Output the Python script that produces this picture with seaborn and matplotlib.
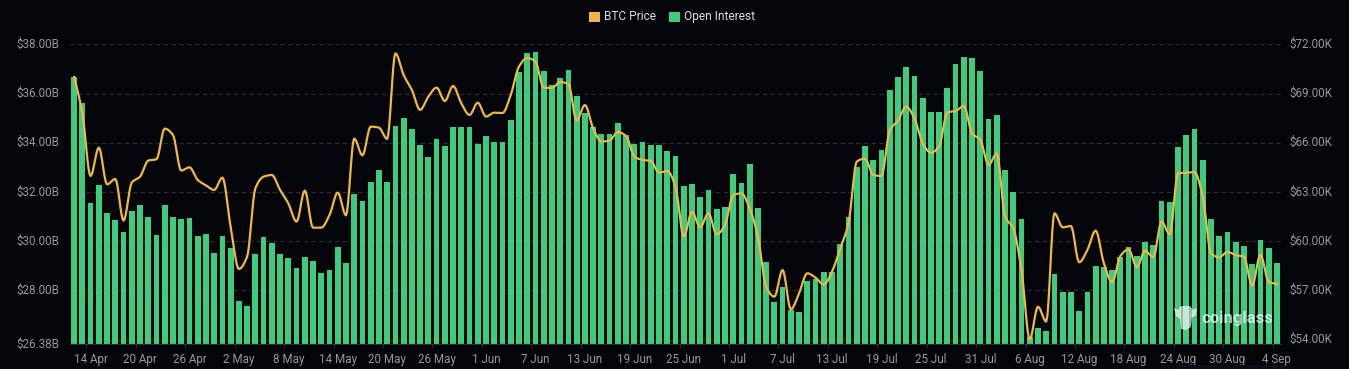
"""
Bitcoin open interest (bars) against BTC price (line), Coinglass dark style
"""

import numpy as np
import pandas as pd
import matplotlib
matplotlib.use('Agg')
import matplotlib.pyplot as plt
from matplotlib.patches import Polygon, Rectangle
from matplotlib.ticker import FixedLocator, NullLocator
import seaborn as sns

# Every 6th category carries a label, the rest stay blank
tick_labels = ['14 Apr', '20 Apr', '26 Apr', '2 May', '8 May', '14 May', '20 May', '26 May',
               '1 Jun', '7 Jun', '13 Jun', '19 Jun', '25 Jun', '1 Jul', '7 Jul', '13 Jul',
               '19 Jul', '25 Jul', '31 Jul', '6 Aug', '12 Aug', '18 Aug', '24 Aug', '30 Aug', '4 Sep']

# Open interest, billions of dollars
open_interest = [
    36.67, 35.62, 31.55, 32.30, 31.16, 30.86, 30.37, 31.24, 31.46, 30.97,
    30.24, 31.47, 30.98, 30.89, 30.95, 30.22, 30.29, 29.52, 30.20, 29.72,
    27.68, 27.53, 29.49, 30.15, 29.92, 29.48, 29.30, 28.91, 29.36, 29.21,
    28.70, 28.81, 29.76, 29.11, 31.92, 31.63, 32.39, 32.91, 32.39, 34.69,
    35.01, 34.56, 33.89, 33.41, 34.14, 33.88, 34.65, 34.64, 34.63, 33.95,
    34.27, 34.02, 34.02, 34.91, 36.88, 37.65, 37.69, 36.92, 36.35, 36.63,
    36.96, 35.89, 35.20, 34.63, 34.34, 34.34, 34.80, 34.33, 33.96, 34.02,
    33.91, 33.91, 33.66, 33.46, 32.24, 32.32, 31.79, 32.08, 31.29, 31.37,
    32.72, 32.36, 33.14, 31.33, 29.14, 27.65, 28.14, 27.41, 27.34, 28.38,
    28.45, 28.73, 28.75, 29.90, 30.97, 33.03, 33.88, 33.30, 33.69, 36.16,
    36.66, 37.09, 36.70, 35.80, 35.26, 35.25, 36.21, 37.20, 37.49, 37.44,
    36.90, 34.98, 35.11, 32.88, 31.98, 30.90, 26.60, 26.86, 26.77, 28.65,
    27.95, 27.94, 27.37, 27.94, 29.00, 28.93, 28.81, 29.36, 29.75, 29.41,
    29.95, 29.84, 31.63, 31.58, 33.83, 34.31, 34.57, 33.30, 30.90, 30.20,
    30.37, 29.96, 29.80, 29.07, 30.03, 29.71, 29.12,
]

# BTC price, thousands of dollars
btc_price = [
    70.03, 67.79, 63.97, 65.70, 63.46, 63.79, 61.25, 63.57, 63.93, 64.91,
    64.99, 66.86, 66.47, 64.30, 64.50, 63.73, 63.40, 63.12, 63.87, 60.88,
    58.30, 59.05, 63.22, 63.93, 64.03, 63.12, 62.30, 61.19, 63.08, 60.82,
    60.82, 61.59, 62.96, 61.57, 66.25, 65.23, 66.98, 66.92, 66.23, 71.45,
    70.13, 69.22, 68.00, 68.81, 69.36, 68.54, 69.46, 68.40, 67.69, 68.44,
    67.59, 67.83, 67.81, 68.91, 70.64, 71.17, 70.94, 69.36, 69.34, 69.70,
    69.58, 67.35, 68.30, 66.88, 66.07, 66.13, 66.65, 66.41, 65.15, 64.95,
    64.89, 64.17, 64.28, 63.32, 60.27, 61.78, 60.84, 61.70, 60.41, 60.98,
    62.81, 62.91, 62.00, 60.27, 57.22, 56.61, 58.24, 55.84, 56.82, 58.04,
    57.77, 57.35, 58.14, 59.56, 61.09, 64.85, 65.03, 64.03, 63.97, 66.74,
    67.35, 68.20, 67.49, 65.96, 65.39, 65.76, 67.85, 67.93, 68.24, 66.57,
    66.17, 64.64, 65.35, 61.49, 60.78, 58.24, 54.01, 56.00, 55.09, 61.70,
    60.84, 60.92, 58.71, 59.46, 60.64, 58.65, 57.49, 59.09, 59.50, 58.40,
    59.42, 59.01, 61.19, 60.41, 64.13, 64.17, 64.20, 62.71, 59.26, 59.01,
    59.34, 59.15, 59.05, 57.28, 59.17, 57.53, 57.37,
]

left_ticks = [26.38, 28, 30, 32, 34, 36, 38]
right_ticks = [54, 57, 60, 63, 66, 69, 72]

BG = '#03050b'
GREEN = '#3ecb7d'
GOLD = '#efb840'
TICK_GREY = '#97989c'
GUIDE = '#2b2d33'


def smooth_curve(y, steps=8):
    """Monotone cubic through the daily points, flat at each peak like the site's line"""
    y = np.asarray(y, dtype=float)
    d = np.diff(y)
    slopes = np.zeros(len(y))
    for i in range(1, len(y) - 1):
        if d[i-1] * d[i] > 0:
            slopes[i] = 2 * d[i-1] * d[i] / (d[i-1] + d[i])
    slopes[0] = d[0]
    slopes[-1] = d[-1]
    xs, ys = [], []
    for i in range(len(y) - 1):
        t = np.linspace(0, 1, steps, endpoint=False)
        h00 = 2*t**3 - 3*t**2 + 1
        h10 = t**3 - 2*t**2 + t
        h01 = -2*t**3 + 3*t**2
        h11 = t**3 - t**2
        xs.append(i + t)
        ys.append(h00*y[i] + h10*slopes[i] + h01*y[i+1] + h11*slopes[i+1])
    xs.append([len(y) - 1])
    ys.append([y[-1]])
    return np.concatenate(xs), np.concatenate(ys)


def left_forward(v):
    # the site spaces the floor label further from 28B than the other ticks
    return np.interp(v, [26.38, 28, 38], [-1.62 * 33.1 / 24.6, 0, 10], left=-3, right=12)


def left_inverse(v):
    return np.interp(v, [-1.62 * 33.1 / 24.6, 0, 10], [26.38, 28, 38])


sns.set_theme(style='dark', rc={'figure.facecolor': BG, 'axes.facecolor': BG, 'axes.grid': False})
plt.rcParams['font.family'] = ['Roboto', 'DejaVu Sans']

fig = plt.figure(figsize=(13.49, 3.69), dpi=100, facecolor=BG)
W, H = 1349.0, 369.0
ax = fig.add_axes([70 / W, 1 - 344 / H, (1281 - 70) / W, (344 - 44.3) / H])
ax.set_facecolor(BG)

days = np.arange(len(open_interest))
oi_df = pd.DataFrame({'day': days, 'oi': open_interest})
sns.barplot(data=oi_df, x='day', y='oi', color=GREEN, saturation=1, width=0.7, ax=ax, linewidth=0)

ax.set_yscale('function', functions=(left_forward, left_inverse))
ax.set_xlim(-0.5, len(days) - 0.5)
ax.set_ylim(26.38, 38)
ax.set_xlabel('')
ax.set_ylabel('')
ax.set_yticks(left_ticks)
ax.set_yticklabels([f'${v:.2f}B' for v in left_ticks])
ax.yaxis.set_minor_locator(NullLocator())

label_pos = np.arange(2, len(days), 6)
ax.set_xticks(label_pos)
ax.set_xticklabels(tick_labels)
ax.tick_params(axis='x', which='major', length=0, pad=6.5, labelsize=8.4, labelcolor=TICK_GREY)
ax.tick_params(axis='y', length=0, pad=8, labelsize=8.4, labelcolor=TICK_GREY)
# small marks on the band edges, labels stay centred on the bars
ax.xaxis.set_minor_locator(FixedLocator(label_pos - 0.5))
ax.tick_params(axis='x', which='minor', length=3, width=0.7, color=GUIDE, bottom=True)
for lab in ax.get_yticklabels():
    lab.set_verticalalignment('center')

ax2 = ax.twinx()
ax2.set_facecolor('none')
ax2.set_ylim(54 - 4.5 / 16.4, 72)
curve_x, curve_y = smooth_curve(btc_price)
curve_df = pd.DataFrame({'day': curve_x, 'price': curve_y})
sns.lineplot(data=curve_df, x='day', y='price', color=GOLD, linewidth=1.6, estimator=None,
             sort=False, ax=ax2, zorder=5)
ax2.set_xlim(-0.5, len(days) - 0.5)
ax2.set_xlabel('')
ax2.set_ylabel('')
ax2.set_yticks(right_ticks)
ax2.set_yticklabels([f'${v:.2f}K' for v in right_ticks])
ax2.tick_params(axis='y', length=0, pad=6, labelsize=8.4, labelcolor=TICK_GREY)
for lab in ax2.get_yticklabels():
    lab.set_verticalalignment('center')

# dashed guides follow the right axis, they sit under the bars on the left axes
for v in right_ticks:
    pix = ax2.transData.transform((0, v))[1]
    frac = ax.transAxes.inverted().transform((0, pix))[1]
    ax.plot([0, 1], [frac, frac], transform=ax.transAxes, color=GUIDE, lw=0.8,
            dashes=(4, 3), zorder=0, clip_on=False)

for a in (ax, ax2):
    for s in a.spines.values():
        s.set_visible(False)
ax.spines['bottom'].set_visible(True)
ax.spines['bottom'].set_color(GUIDE)
ax.spines['bottom'].set_linewidth(0.8)

# legend as two swatches, laid out like the site header
for x0, col, name in [(589, GOLD, 'BTC Price'), (669, GREEN, 'Open Interest')]:
    fig.add_artist(Rectangle((x0 / W, 1 - 22 / H), 10.5 / W, 10.5 / H, transform=fig.transFigure,
                             facecolor=col, edgecolor='none'))
    fig.text((x0 + 15.5) / W, 1 - 16.5 / H, name, color='#dcdde0', fontsize=8.6, va='center', ha='left')

# coinglass watermark
wm = [(1174, 308), (1178, 310), (1181, 306), (1190, 306), (1193, 310), (1197, 308), (1196, 315),
      (1192, 318), (1191, 327), (1186, 330), (1181, 329), (1180, 319), (1176, 316)]
fig.add_artist(Polygon([(x / W, 1 - y / H) for x, y in wm], closed=True, transform=fig.transFigure,
                       facecolor='white', edgecolor='none', alpha=0.68, zorder=10))
fig.text(1202 / W, 1 - 318 / H, 'coinglass', color='white', alpha=0.68, fontsize=12,
         fontweight='bold', va='center', ha='left', zorder=10)

# lighter strip the screenshot caught along the bottom edge
fig.add_artist(Rectangle((1177 / W, 0), 106 / W, 4 / H, transform=fig.transFigure,
                         facecolor='#090e1c', edgecolor='none'))

fig.savefig('out.png', dpi=100, facecolor=BG)
plt.close(fig)
